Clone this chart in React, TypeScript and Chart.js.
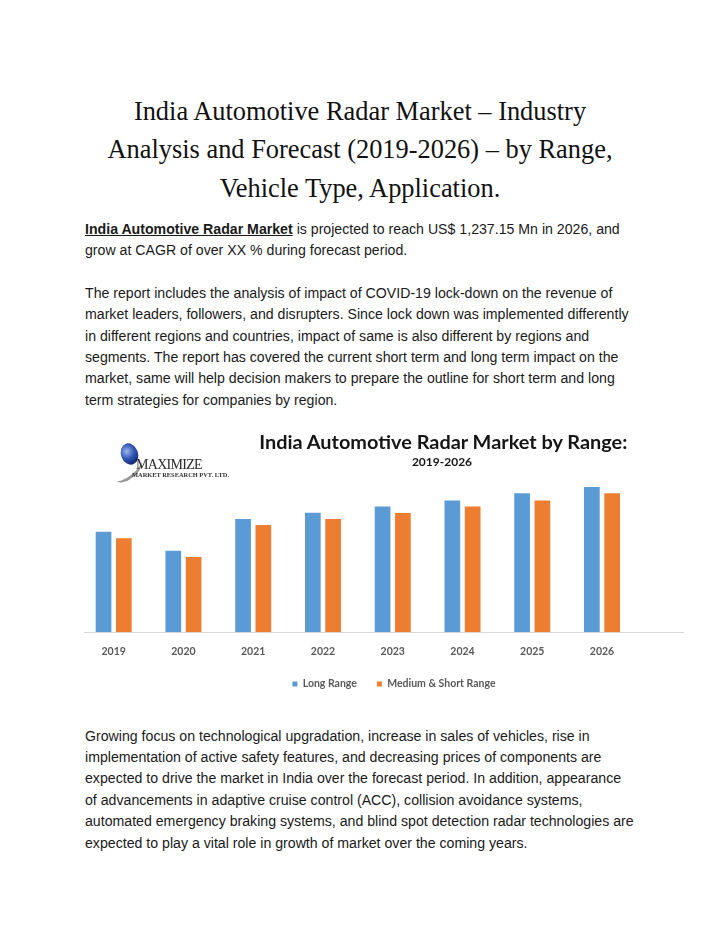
import React, { useEffect, useRef } from "react";
import { Chart, registerables } from "chart.js";

Chart.register(...registerables);

// ---- chart data ----
const years = ["2019", "2020", "2021", "2022", "2023", "2024", "2025", "2026"];
const longRange = [438, 355, 493, 520, 547, 573, 605, 632];
const mediumShortRange = [409, 328, 467, 493, 519, 547, 573, 605];
const seriesNames = ["Long Range", "Medium & Short Range"];
const seriesColors = ["#5B9BD5", "#ED7D31"];
const yMax = 700;

const chartTitle = "India Automotive Radar Market by Range:";
const chartSubtitle = "2019-2026";

// ---- page text ----
const titleLines = [
  "India Automotive Radar Market – Industry",
  "Analysis and Forecast (2019-2026) – by Range,",
  "Vehicle Type, Application.",
];
const para1Lead = "India Automotive Radar Market";
const para1Lines = [
  " is projected to reach US$ 1,237.15 Mn in 2026, and",
  "grow at CAGR of over XX % during forecast period.",
];
const para2Lines = [
  "The report includes the analysis of impact of COVID-19 lock-down on the revenue of",
  "market leaders, followers, and disrupters. Since lock down was implemented differently",
  "in different regions and countries, impact of same is also different by regions and",
  "segments. The report has covered the current short term and long term impact on the",
  "market, same will help decision makers to prepare the outline for short term and long",
  "term strategies for companies by region.",
];
const para3Lines = [
  "Growing focus on technological upgradation, increase in sales of vehicles, rise in",
  "implementation of active safety features, and decreasing prices of components are",
  "expected to drive the market in India over the forecast period. In addition, appearance",
  "of advancements in adaptive cruise control (ACC), collision avoidance systems,",
  "automated emergency braking systems, and blind spot detection radar technologies are",
  "expected to play a vital role in growth of market over the coming years.",
];

const sans = '"Liberation Sans", Arial, sans-serif';
const serif = '"Liberation Serif", "Times New Roman", serif';
const chartFont = 'Lato, "Noto Sans", sans-serif';

const CANVAS_W = 620;
const CANVAS_H = 277;

function RadarChart() {
  const ref = useRef<HTMLCanvasElement>(null);
  useEffect(() => {
    if (!ref.current) return;
    const tickFont = { family: chartFont, size: 10.5, weight: "bold" as const, lineHeight: 1.2 };
    const chart = new Chart(ref.current, {
      type: "bar",
      data: {
        datasets: [
          {
            label: seriesNames[0],
            data: longRange.map((v, i) => ({ x: i, y: v })),
            backgroundColor: seriesColors[0],
            borderWidth: 0,
          },
          {
            label: seriesNames[1],
            data: mediumShortRange.map((v, i) => ({ x: i, y: v })),
            backgroundColor: seriesColors[1],
            borderWidth: 0,
          },
        ],
      },
      options: {
        responsive: false,
        maintainAspectRatio: false,
        animation: false,
        layout: { padding: { top: 48.44, bottom: 0.75, left: 0, right: 0 } },
        datasets: { bar: { categoryPercentage: 0.582, barPercentage: 0.773 } },
        scales: {
          x: {
            type: "linear",
            min: -0.4257,
            max: 8.161,
            offset: false,
            bounds: "data",
            afterBuildTicks: (s: any) => {
              s.ticks = years.map((_, i) => ({ value: i }));
            },
            afterFit: (s: any) => {
              s.height = 26.45;
            },
            grid: { display: false, drawTicks: false },
            border: { display: true, color: "#d9d9d9", width: 1 },
            ticks: {
              padding: 13.2,
              autoSkip: false,
              maxRotation: 0,
              color: "#595959",
              font: tickFont,
              callback: (v: any) => years[v as number] ?? "",
            },
          },
          y: {
            position: "right",
            min: 0,
            max: yMax,
            grid: { display: false, drawTicks: false },
            border: { display: false },
            ticks: { display: false },
            afterFit: (s: any) => {
              s.width = 21;
            },
          },
        },
        plugins: {
          legend: {
            position: "bottom",
            labels: {
              boxWidth: 5,
              boxHeight: 5,
              padding: 20,
              color: "#595959",
              font: tickFont,
            },
          },
          tooltip: { enabled: false },
        },
      } as any,
    });
    return () => chart.destroy();
  }, []);
  return <canvas ref={ref} width={CANVAS_W} height={CANVAS_H} style={{ display: "block" }} />;
}

function Logo() {
  return (
    <div style={{ position: "absolute", left: 0, top: 0 }}>
      <div
        style={{
          position: "absolute",
          left: 28,
          top: 39,
          width: 32,
          height: 14,
          borderRadius: "50%",
          borderBottom: "3px solid #9a9a9a",
          transform: "rotate(-38deg)",
        }}
      />
      <div
        style={{
          position: "absolute",
          left: 37,
          top: 20,
          width: 17,
          height: 22,
          borderRadius: "50%",
          background: "radial-gradient(circle at 40% 35%, #9db8ee 0%, #3559b8 40%, #142a78 75%, #0b1647 100%)",
          transform: "rotate(-20deg)",
        }}
      />
      <div
        style={{
          position: "absolute",
          left: 52,
          top: 34,
          fontFamily: serif,
          fontSize: 14,
          letterSpacing: -0.7,
          lineHeight: "15px",
          color: "#2a2a2a",
          whiteSpace: "nowrap",
        }}
      >
        MAXIMIZE
      </div>
      <div
        style={{
          position: "absolute",
          left: 48,
          top: 48,
          fontFamily: serif,
          fontWeight: "bold",
          fontSize: 6.4,
          lineHeight: "8px",
          color: "#333",
          whiteSpace: "nowrap",
        }}
      >
        MARKET RESEARCH PVT. LTD.
      </div>
    </div>
  );
}

function ChartBlock() {
  return (
    <div style={{ position: "absolute", left: 76, top: 415, width: CANVAS_W, height: CANVAS_H }}>
      <RadarChart />
      <Logo />
      <div
        style={{
          position: "absolute",
          left: 359.3 - 250,
          width: 500,
          top: 6.5,
          textAlign: "center",
          fontFamily: chartFont,
          fontWeight: "bold",
          fontSize: 19.9,
          lineHeight: 1.2,
          color: "#151515",
          whiteSpace: "nowrap",
        }}
      >
        {chartTitle}
      </div>
      <div
        style={{
          position: "absolute",
          left: 358 - 100,
          width: 200,
          top: 31.5,
          textAlign: "center",
          fontFamily: chartFont,
          fontWeight: "bold",
          fontSize: 12,
          lineHeight: 1.2,
          color: "#151515",
          whiteSpace: "nowrap",
        }}
      >
        {chartSubtitle}
      </div>
    </div>
  );
}

const bodyStyle: React.CSSProperties = {
  position: "absolute",
  left: 77,
  fontFamily: sans,
  fontSize: 14.15,
  lineHeight: "21.4px",
  color: "#1a1a1a",
  whiteSpace: "nowrap",
};

export default function App() {
  return (
    <div style={{ position: "relative", width: 704, height: 915, overflow: "hidden", background: "#fff" }}>
      <div
        style={{
          position: "absolute",
          left: 0,
          top: 83.5,
          width: 704,
          textAlign: "center",
          fontFamily: serif,
          fontSize: 26.4,
          lineHeight: "38.5px",
          color: "#111",
        }}
      >
        {titleLines.map((l, i) => (
          <div key={i}>{l}</div>
        ))}
      </div>

      <div style={{ ...bodyStyle, top: 210.5 }}>
        <div>
          <b style={{ textDecoration: "underline" }}>{para1Lead}</b>
          {para1Lines[0]}
        </div>
        <div>{para1Lines[1]}</div>
      </div>

      <div style={{ ...bodyStyle, top: 274.7 }}>
        {para2Lines.map((l, i) => (
          <div key={i}>{l}</div>
        ))}
      </div>

      <ChartBlock />

      <div style={{ ...bodyStyle, top: 717.5 }}>
        {para3Lines.map((l, i) => (
          <div key={i}>{l}</div>
        ))}
      </div>
    </div>
  );
}
